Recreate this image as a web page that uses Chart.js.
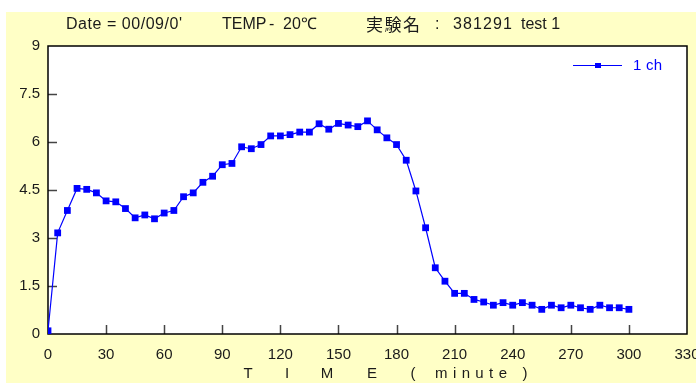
<!DOCTYPE html>
<html><head><meta charset="utf-8">
<script src="https://cdn.jsdelivr.net/npm/chart.js@4/dist/chart.umd.min.js"></script>
<style>html,body{margin:0;padding:0;background:#fff;overflow:hidden}#wrap{width:696px;height:383px;position:relative}</style>
</head><body><div id="wrap"><canvas id="c" width="696" height="383"></canvas></div>
<script>
const times = [0,5,10,15,20,25,30,35,40,45,50,55,60,65,70,75,80,85,90,95,100,105,110,115,120,125,130,135,140,145,150,155,160,165,170,175,180,185,190,195,200,205,210,215,220,225,230,235,240,245,250,255,260,265,270,275,280,285,290,295,300];
const values = [0.1,3.16,3.86,4.55,4.52,4.41,4.16,4.13,3.92,3.63,3.72,3.60,3.78,3.86,4.29,4.41,4.74,4.93,5.29,5.33,5.85,5.79,5.92,6.19,6.19,6.23,6.31,6.31,6.57,6.40,6.58,6.53,6.48,6.66,6.38,6.13,5.92,5.43,4.47,3.32,2.07,1.65,1.27,1.27,1.08,1.00,0.90,0.98,0.90,0.98,0.90,0.77,0.90,0.82,0.90,0.82,0.77,0.90,0.82,0.82,0.77];
const xTicks = [0,30,60,90,120,150,180,210,240,270,300,330];
const yTicks = [0,1.5,3,4.5,6,7.5,9];
const titleParts = ["Date = 00/09/0'", "TEMP", "-", "20\u2103", "\u5b9f\u9a13\u540d", ":", "381291", "test 1"];
const seriesName = "1 ch";
const xAxisTitleParts = ["T", "I", "M", "E", "(", "minute", ")"];

const FONT = "'Liberation Sans', Arial, sans-serif";
const CJK = "'Noto Sans CJK JP', sans-serif";
const BLUE = '#0000ff';

// draw text starting at x, spread to the given width (0 = natural width)
function fitText(ctx, str, x, y, width, font) {
  ctx.letterSpacing = '0px';
  ctx.font = font;
  const w = ctx.measureText(str).width;
  const n = Math.max(str.length - 1, 1);
  const ls = width ? (width - w) / n : 0;
  if (ls) { ctx.letterSpacing = ls.toFixed(2) + 'px'; ctx.font = font; }
  ctx.textAlign = 'left';
  ctx.fillText(str, x, y);
  ctx.letterSpacing = '0px';
}
function centerText(ctx, str, cx, y, width, font) {
  ctx.letterSpacing = '0px';
  ctx.font = font;
  const w = ctx.measureText(str).width;
  const tw = width || w;
  fitText(ctx, str, cx - tw / 2, y, width, font);
}

const framePlugin = {
  id: 'frame',
  beforeDraw(chart) {
    const ctx = chart.ctx, a = chart.chartArea;
    ctx.save();
    ctx.fillStyle = '#ffffff';
    ctx.fillRect(0, 0, chart.width, chart.height);
    ctx.fillStyle = '#ffffc6';
    ctx.fillRect(6, 12, chart.width - 6, chart.height - 12);
    ctx.fillStyle = '#ffffff';
    ctx.fillRect(a.left, a.top, a.right - a.left, a.bottom - a.top);
    ctx.restore();
  },
  beforeDatasetsDraw(chart) {
    const ctx = chart.ctx, a = chart.chartArea;
    const xs = chart.scales.x, ys = chart.scales.y;
    ctx.save();
    ctx.strokeStyle = '#444444';
    ctx.lineWidth = 1.5;
    ctx.beginPath();
    xTicks.forEach(v => {
      if (v <= 0 || v >= 330) return;
      const px = Math.round(xs.getPixelForValue(v)) + 0.5;
      ctx.moveTo(px, a.bottom); ctx.lineTo(px, a.bottom - 9);
    });
    yTicks.forEach(v => {
      if (v <= 0 || v >= 9) return;
      const py = Math.round(ys.getPixelForValue(v)) + 0.5;
      ctx.moveTo(a.left, py); ctx.lineTo(a.left + 9, py);
    });
    ctx.stroke();
    ctx.strokeStyle = '#000000';
    ctx.lineWidth = 1.5;
    ctx.strokeRect(a.left, a.top, a.right - a.left, a.bottom - a.top);
    ctx.restore();
  },
  afterDraw(chart) {
    const ctx = chart.ctx;
    ctx.save();
    ctx.fillStyle = '#1a1a1a';
    ctx.textBaseline = 'middle';
    const f16 = '16px ' + FONT;
    fitText(ctx, titleParts[0], 66, 25, 116, f16);
    fitText(ctx, titleParts[1], 222, 25, 0, f16);
    fitText(ctx, titleParts[2], 269, 25, 0, f16);
    fitText(ctx, titleParts[3], 283, 25, 0, f16);
    fitText(ctx, titleParts[4], 366, 25, 54, '17px ' + CJK);
    fitText(ctx, titleParts[5], 435, 25, 0, f16);
    fitText(ctx, titleParts[6], 453, 25, 59, f16);
    fitText(ctx, titleParts[7], 521, 25, 0, f16);
    // x-axis title
    const xc = [248, 287, 327, 372, 413, 471, 525];
    xAxisTitleParts.forEach((p, i) => {
      centerText(ctx, p, xc[i], 374, p.length > 1 ? 72 : 0, '15px ' + FONT);
    });
    // legend
    ctx.strokeStyle = BLUE; ctx.lineWidth = 1.2;
    ctx.beginPath(); ctx.moveTo(573, 65.5); ctx.lineTo(622, 65.5); ctx.stroke();
    ctx.fillStyle = BLUE;
    ctx.fillRect(595, 63, 6, 5);
    fitText(ctx, chart.data.datasets[0].label, 633, 66, 29, '15px ' + FONT);
    ctx.restore();
  }
};

new Chart(document.getElementById('c'), {
  type: 'line',
  data: {
    datasets: [{
      label: seriesName,
      data: times.map((t, i) => ({x: t, y: values[i]})),
      borderColor: BLUE,
      backgroundColor: BLUE,
      borderWidth: 1.2,
      pointStyle: 'rect',
      pointRadius: 4.8,
      pointBorderWidth: 0,
      pointBackgroundColor: BLUE,
      tension: 0
    }]
  },
  options: {
    responsive: false,
    animation: false,
    devicePixelRatio: 1,
    layout: {padding: {top: 46, right: 9, left: 0, bottom: 0}},
    plugins: {legend: {display: false}, title: {display: false}, tooltip: {enabled: false}},
    scales: {
      x: {
        type: 'linear', min: 0, max: 330,
        afterBuildTicks: s => { s.ticks = xTicks.map(v => ({value: v})); },
        afterFit: s => { s.height = 49; s.paddingLeft = 0; s.paddingRight = 0; },
        grid: {display: false, drawTicks: false},
        border: {display: false},
        ticks: {color: '#1a1a1a', font: {family: FONT, size: 15}, padding: 12, maxRotation: 0, autoSkip: false},
        title: {display: false}
      },
      y: {
        type: 'linear', min: 0, max: 9,
        afterBuildTicks: s => { s.ticks = yTicks.map(v => ({value: v})); },
        afterFit: s => { s.width = 48; s.paddingTop = 0; s.paddingBottom = 0; },
        grid: {display: false, drawTicks: false},
        border: {display: false},
        ticks: {color: '#1a1a1a', font: {family: FONT, size: 15}, padding: 8, autoSkip: false, callback: v => String(v)}
      }
    }
  },
  plugins: [framePlugin]
});
</script></body></html>
